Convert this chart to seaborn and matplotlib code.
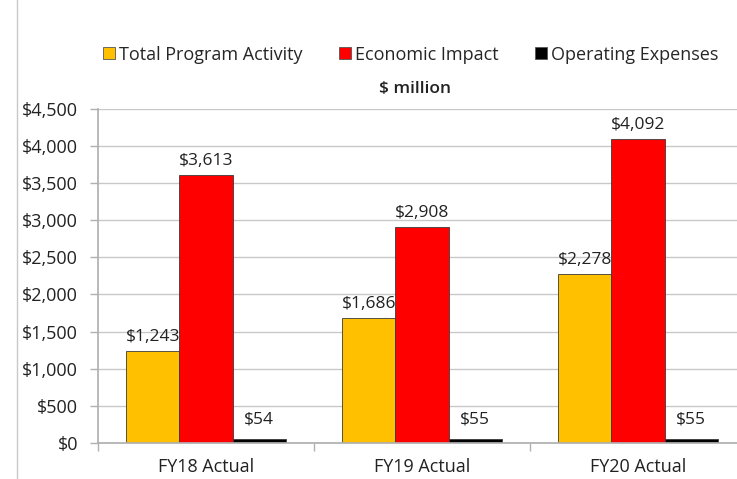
import matplotlib
matplotlib.use("Agg")
import matplotlib.pyplot as plt
import seaborn as sns
import pandas as pd
from matplotlib.lines import Line2D
from matplotlib.ticker import FuncFormatter, FixedLocator

categories = ["FY18 Actual", "FY19 Actual", "FY20 Actual"]
series_names = ["Total Program Activity", "Economic Impact", "Operating Expenses"]
total_program = [1243, 1686, 2278]
economic_impact = [3613, 2908, 4092]
operating_exp = [54, 55, 55]
colors = ["#FFC000", "#FF0000", "#000000"]

rows = []
for name, vals in zip(series_names, [total_program, economic_impact, operating_exp]):
    for c, v in zip(categories, vals):
        rows.append({"cat": c, "series": name, "value": v})
df = pd.DataFrame(rows)

sns.set_theme(style="white")
plt.rcParams["font.family"] = ["Open Sans", "DejaVu Sans"]

fig = plt.figure(figsize=(7.37, 4.79), dpi=100)
ax = fig.add_axes([0.133, 0.0752, 0.879, 0.698])

sns.barplot(data=df, x="cat", y="value", hue="series", order=categories,
            hue_order=series_names, palette=colors, width=0.74,
            edgecolor="#3a3a3a", linewidth=0.6, saturation=1, ax=ax, legend=False)

ax.set_xlim(-0.5, 2.5)
ax.set_ylim(0, 4500)
ax.yaxis.set_major_locator(FixedLocator(range(0, 4501, 500)))
ax.yaxis.set_major_formatter(FuncFormatter(lambda v, p: f"${int(v):,}"))
ax.grid(axis="y", color="#c8c8c8", linewidth=1.0)
ax.set_axisbelow(True)
for s in ["top", "right"]:
    ax.spines[s].set_visible(False)
ax.spines["left"].set_color("#b0b0b0")
ax.spines["bottom"].set_color("#b0b0b0")
ax.tick_params(axis="y", which="major", length=6, color="#b0b0b0", width=1,
               labelsize=13, labelcolor="#222222", pad=8.5, left=True)
ax.tick_params(axis="x", which="major", length=0, labelsize=13,
               labelcolor="#222222", pad=11)
ax.set_xticks([-0.5, 0.5, 1.5, 2.5], minor=True)
ax.tick_params(axis="x", which="minor", length=6, color="#b0b0b0", width=1, bottom=True)
ax.set_xlabel("")
ax.set_ylabel("")

for cont in ax.containers:
    for bar in cont:
        h = bar.get_height()
        ax.annotate(f"${int(round(h)):,}", (bar.get_x() + bar.get_width() / 2, h),
                    xytext=(0, 4 if h > 100 else 8), textcoords="offset points",
                    ha="center", va="bottom", fontsize=12.5, color="#222222")

handles = [Line2D([0], [0], marker="s", linestyle="none", markersize=9,
                  markerfacecolor=c, markeredgecolor="#555555", markeredgewidth=0.6)
           for c in colors]
fig.legend(handles, series_names, loc="center", bbox_to_anchor=(0.556, 0.886),
           ncol=3, frameon=False, fontsize=13, handletextpad=0.1,
           columnspacing=1.9, handlelength=0.9)
fig.text(0.563, 0.814, "$ million", ha="center", va="center", fontsize=12.5,
         fontweight="semibold", color="#222222")

fig.add_artist(Line2D([0.023, 0.023], [0, 1.0], transform=fig.transFigure,
                      color="#c8c8c8", linewidth=1))

fig.savefig("out.png", dpi=100)
